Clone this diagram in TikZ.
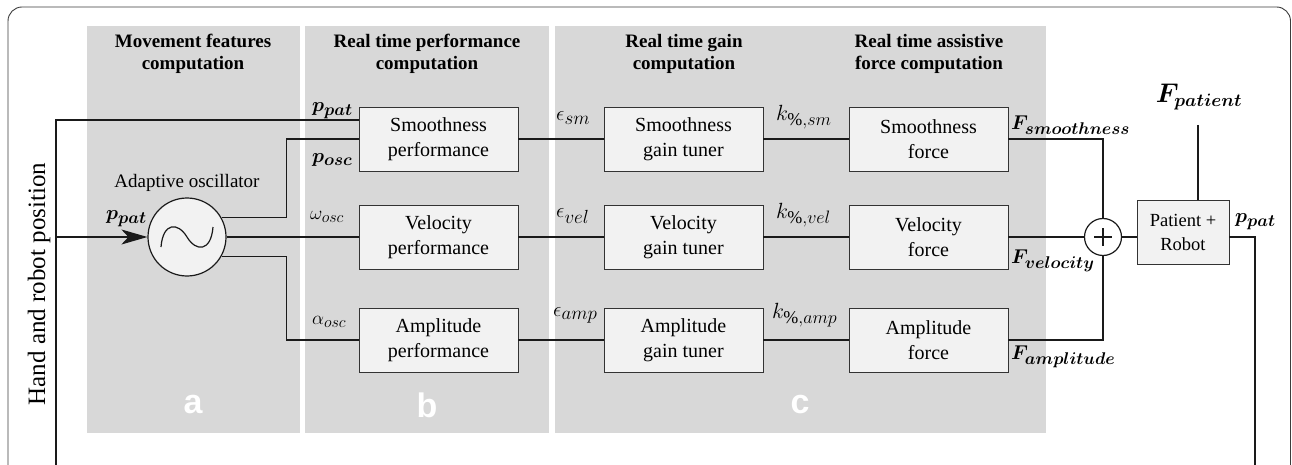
\RequirePackage{fix-cm}
\documentclass[tikz,border=0pt]{standalone}
\usepackage{amsmath}
\usepackage{bm}
\usepackage{fontspec}
\setmainfont{Liberation Serif}
\newfontfamily\lettersans{Liberation Sans}
\usetikzlibrary{arrows.meta,calc}
% script sizes stay close to the base size in the signal labels
\DeclareMathSizes{19}{19}{16}{13}
\DeclareMathSizes{20}{20}{17}{14}
\DeclareMathSizes{21}{21}{19}{15}
\DeclareMathSizes{22}{22}{18}{14}
\DeclareMathSizes{27}{27}{18}{14}
\definecolor{panelgray}{HTML}{D8D8D8}
\definecolor{boxfill}{HTML}{F2F2F2}
\definecolor{boxline}{HTML}{333333}
\definecolor{wirecol}{HTML}{1A1A1A}
\definecolor{framecol}{HTML}{3C3C3C}
\begin{document}
\begin{tikzpicture}[x=1pt,y=-1pt,
  panel/.style={fill=panelgray,draw=none},
  blk/.style={draw=boxline,fill=boxfill,line width=0.9pt,minimum width=159pt,
    minimum height=64pt,align=center,inner sep=0pt,
    font=\fontsize{20}{25}\selectfont},
  ttl/.style={align=center,font=\fontsize{19}{22}\selectfont\bfseries},
  wire/.style={line width=1.3pt,draw=wirecol},
  sig/.style={inner sep=0pt,font=\fontsize{20}{24}\selectfont},
  sigsmall/.style={inner sep=0pt,font=\fontsize{19}{22}\selectfont},
  sigeps/.style={inner sep=0pt,font=\fontsize{21}{24}\selectfont},
  sigk/.style={inner sep=0pt,font=\fontsize{22}{26}\selectfont},
  tag/.style={text=white,inner sep=0pt,font=\fontsize{34}{34}\selectfont\lettersans\bfseries}]
\useasboundingbox (0,0) rectangle (1292,465);
\fill[white] (0,0) rectangle (1292,465);
% outer frame
\draw[framecol,line width=0.9pt,rounded corners=14pt]
  (8,490) -- (8,7) -- (1290.5,7) -- (1290.5,490);
% stage panels
\fill[panel] (87,26) rectangle (300,433);
\fill[panel] (305,26) rectangle (549,433);
\fill[panel] (555,26) rectangle (1046,433);
% stage titles
\node[ttl] (t1) at (193,54) {Movement features\\computation};
\node[ttl] (t2) at (427,54) {Real time performance\\computation};
\node[ttl] (t3) at (684,54) {Real time gain\\computation};
\node[ttl] (t4) at (929,54) {Real time assistive\\force computation};
% stage letters
\node[tag] (la) at (193,405) {a};
\node[tag] (lb) at (427,405) {b};
\node[tag] (lc) at (800,405) {c};
% blocks
\node[blk] (sp) at (438.5,139) {Smoothness\\performance};
\node[blk] (vp) at (438.5,237) {Velocity\\performance};
\node[blk] (ap) at (438.5,340) {Amplitude\\performance};
\node[blk] (sg) at (683.5,139) {Smoothness\\gain tuner};
\node[blk] (vg) at (683.5,237) {Velocity\\gain tuner};
\node[blk] (ag) at (683.5,340) {Amplitude\\gain tuner};
\node[blk] (sf) at (928.5,139) {Smoothness\\force};
\node[blk] (vf) at (928.5,237) {Velocity\\force};
\node[blk] (af) at (928.5,340) {Amplitude\\force};
\node[blk,minimum width=92pt,font=\fontsize{18.5}{24}\selectfont] (pr) at (1183,232) {Patient +\\Robot};
% adaptive oscillator
\node[circle,draw=wirecol,line width=1.2pt,fill=boxfill,minimum size=78pt,inner sep=0pt] (osc) at (187,237) {};
\draw[wirecol,line width=1.2pt] (161,247) .. controls (163,222) and (178,222) .. (187,237)
  .. controls (196,252) and (211,252) .. (213,227);
\node[font=\fontsize{19}{22}\selectfont] (oscl) at (187,183) {Adaptive oscillator};
% summing junction
\node[circle,draw=wirecol,line width=1.2pt,fill=white,minimum size=37pt,inner sep=0pt] (sum) at (1103,237) {};
\draw[wirecol,line width=1.2pt] ($(sum.center)+(-9,0)$) -- ($(sum.center)+(9,0)$)
  ($(sum.center)+(0,-9)$) -- ($(sum.center)+(0,9)$);
% loose ends of the feedback loop
\coordinate (fbL) at (56,465);
\coordinate (fbR) at (1255,465);
\coordinate (inJ) at (56,237);
\coordinate (fpTop) at (1198,125);
% connectors
\draw[wire] (fbL) |- ([yshift=19pt]sp.west);
\draw[wire,-{Stealth[length=26pt,width=15pt,inset=7pt]}] (inJ) -- (osc.west);
\draw[wire] (osc.29) -| ($(sp.west)+(-72,0)$) -- (sp.west);
\draw[wire] (osc.east) -- (vp.west);
\draw[wire] (osc.-29) -| ($(ap.west)+(-72,0)$) -- (ap.west);
\draw[wire] (sp.east) -- (sg.west);
\draw[wire] (vp.east) -- (vg.west);
\draw[wire] (ap.east) -- (ag.west);
\draw[wire] (sg.east) -- (sf.west);
\draw[wire] (vg.east) -- (vf.west);
\draw[wire] (ag.east) -- (af.west);
\draw[wire] (sf.east) -| (sum.north);
\draw[wire] (vf.east) -- (sum.west);
\draw[wire] (af.east) -| (sum.south);
\draw[wire] (sum.east) -- (sum.east -| pr.west);
\draw[wire] (pr.east |- sum.east) -| (fbR);
\draw[wire] (fpTop) -- (fpTop |- pr.north);
% signal labels
\node[sig,anchor=west] (l1) at (312,111) {$\bm{p_{pat}}$};
\node[sig,anchor=west] (l2) at (312,160) {$\bm{p_{osc}}$};
\node[sigsmall,anchor=west] (l3) at (310,217) {$\omega_{osc}$};
\node[sigsmall,anchor=west] (l4) at (312,322) {$\alpha_{osc}$};
\node[sig,anchor=west] (l5) at (106,219) {$\bm{p_{pat}}$};
\node[sigeps,anchor=west] (l6) at (556,118) {$\epsilon_{sm}$};
\node[sigeps,anchor=west] (l7) at (556,216) {$\epsilon_{vel}$};
\node[sigeps,anchor=west] (l8) at (553,315) {$\epsilon_{amp}$};
\node[sigk,anchor=west] (l9) at (776,117) {$k_{\%,sm}$};
\node[sigk,anchor=west] (l10) at (776,215) {$k_{\%,vel}$};
\node[sigk,anchor=west] (l11) at (772,315) {$k_{\%,amp}$};
\node[sig,anchor=west] (l12) at (1011,125) {$\bm{F_{smoothness}}$};
\node[sig,anchor=west] (l13) at (1011,261) {$\bm{F_{velocity}}$};
\node[sig,anchor=west] (l14) at (1011,357) {$\bm{F_{amplitude}}$};
\node[inner sep=0pt,font=\fontsize{27}{30}\selectfont] (l15) at (1199,97) {$\bm{F_{patient}}$};
\node[sig,anchor=west] (l16) at (1235,222) {$\bm{p_{pat}}$};
% input label
\node[rotate=90,font=\fontsize{25}{25}\selectfont] (hr) at (39,284) {Hand and robot position};
\end{tikzpicture}
\end{document}
